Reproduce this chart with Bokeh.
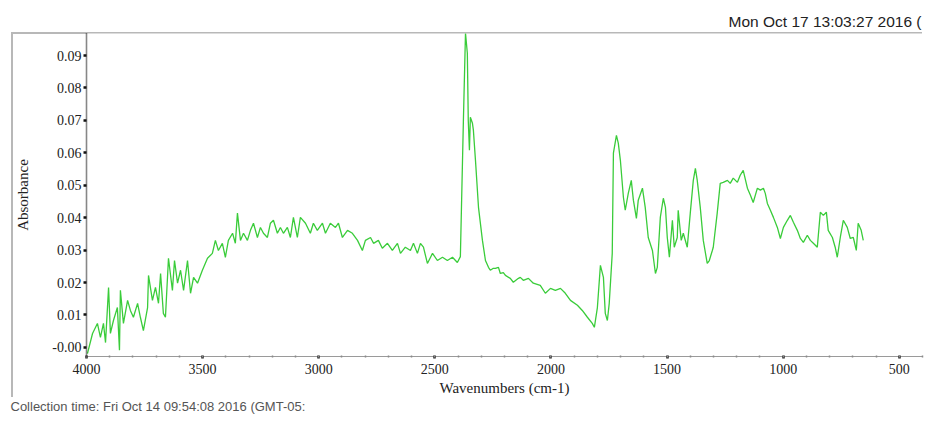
from bokeh.plotting import figure
from bokeh.models import Range1d, FixedTicker, Title
from bokeh.embed import file_html
from bokeh.resources import INLINE

# ---- data ----
wavenumber = [
    3996, 3974, 3953, 3940, 3927, 3918, 3905, 3897, 3884, 3867,
    3858, 3854, 3841, 3823, 3811, 3798, 3780, 3768, 3755, 3737,
    3733, 3716, 3703, 3690, 3681, 3669, 3660, 3647, 3630, 3621,
    3608, 3595, 3582, 3565, 3552, 3539, 3522, 3501, 3479, 3458,
    3445, 3432, 3415, 3402, 3389, 3371, 3359, 3350, 3337, 3324,
    3307, 3294, 3281, 3264, 3251, 3238, 3221, 3208, 3195, 3178,
    3165, 3152, 3135, 3122, 3109, 3092, 3079, 3057, 3036, 3023,
    3006, 2984, 2971, 2950, 2928, 2915, 2898, 2876, 2855, 2833,
    2812, 2799, 2777, 2764, 2743, 2726, 2704, 2683, 2661, 2648,
    2627, 2605, 2592, 2575, 2562, 2549, 2532, 2510, 2489, 2467,
    2446, 2424, 2403, 2390, 2377, 2368, 2360, 2356, 2351, 2347,
    2338, 2334, 2325, 2312, 2295, 2282, 2269, 2261, 2248, 2239,
    2226, 2218, 2205, 2196, 2175, 2162, 2140, 2132, 2119, 2097,
    2076, 2046, 2024, 2002, 1981, 1959, 1938, 1916, 1886, 1865,
    1843, 1822, 1813, 1800, 1787, 1774, 1766, 1757, 1749, 1736,
    1731, 1718, 1710, 1701, 1688, 1680, 1667, 1654, 1645, 1632,
    1624, 1606, 1594, 1581, 1563, 1550, 1542, 1529, 1516, 1507,
    1499, 1490, 1477, 1469, 1456, 1452, 1439, 1430, 1413, 1400,
    1387, 1378, 1370, 1357, 1344, 1327, 1318, 1305, 1301, 1284,
    1271, 1258, 1240, 1228, 1215, 1197, 1185, 1172, 1154, 1141,
    1129, 1111, 1098, 1085, 1077, 1068, 1055, 1042, 1025, 1012,
    999, 982, 969, 956, 939, 926, 913, 896, 883, 870,
    853, 840, 827, 814, 806, 788, 776, 767, 754, 741,
    724, 711, 698, 685, 677, 664, 655,
]
absorbance = [
    -0.0019, 0.0043, 0.0074, 0.0031, 0.0074, 0.0015, 0.0185, 0.0043, 0.0083, 0.0123,
    -0.0009, 0.0176, 0.0074, 0.0145, 0.0114, 0.0093, 0.0136, 0.0093, 0.0052, 0.0123,
    0.0222, 0.0145, 0.0185, 0.0136, 0.0228, 0.0105, 0.0093, 0.0275, 0.0176, 0.0268,
    0.0198, 0.0238, 0.0176, 0.0268, 0.0167, 0.0216, 0.0198, 0.0238, 0.0275, 0.0290,
    0.0330, 0.0299, 0.0321, 0.0278, 0.0330, 0.0352, 0.0321, 0.0414, 0.0330, 0.0352,
    0.0330, 0.0361, 0.0383, 0.0339, 0.0370, 0.0352, 0.0339, 0.0383, 0.0392, 0.0352,
    0.0370, 0.0352, 0.0370, 0.0339, 0.0401, 0.0339, 0.0401, 0.0383, 0.0352, 0.0383,
    0.0361, 0.0383, 0.0352, 0.0383, 0.0370, 0.0383, 0.0339, 0.0361, 0.0352, 0.0330,
    0.0299, 0.0330, 0.0339, 0.0321, 0.0330, 0.0306, 0.0321, 0.0299, 0.0321, 0.0290,
    0.0309, 0.0299, 0.0321, 0.0290, 0.0321, 0.0309, 0.0259, 0.0290, 0.0268, 0.0278,
    0.0268, 0.0278, 0.0262, 0.0280, 0.0700, 0.0969, 0.0907, 0.0700, 0.0608, 0.0710,
    0.0691, 0.0670, 0.0577, 0.0432, 0.0330, 0.0268, 0.0247, 0.0238, 0.0244, 0.0244,
    0.0247, 0.0228, 0.0231, 0.0222, 0.0213, 0.0201, 0.0213, 0.0216, 0.0207, 0.0213,
    0.0198, 0.0191, 0.0167, 0.0182, 0.0176, 0.0182, 0.0167, 0.0145, 0.0130, 0.0114,
    0.0093, 0.0074, 0.0062, 0.0123, 0.0253, 0.0216, 0.0105, 0.0083, 0.0136, 0.0290,
    0.0599, 0.0654, 0.0630, 0.0577, 0.0463, 0.0423, 0.0475, 0.0515, 0.0454, 0.0398,
    0.0454, 0.0491, 0.0432, 0.0339, 0.0299, 0.0228, 0.0247, 0.0401, 0.0460, 0.0432,
    0.0339, 0.0278, 0.0392, 0.0309, 0.0339, 0.0423, 0.0330, 0.0352, 0.0309, 0.0414,
    0.0515, 0.0552, 0.0515, 0.0432, 0.0330, 0.0259, 0.0268, 0.0299, 0.0309, 0.0414,
    0.0506, 0.0509, 0.0515, 0.0506, 0.0522, 0.0509, 0.0531, 0.0546, 0.0491, 0.0469,
    0.0447, 0.0491, 0.0485, 0.0491, 0.0475, 0.0444, 0.0423, 0.0401, 0.0370, 0.0336,
    0.0370, 0.0392, 0.0407, 0.0386, 0.0361, 0.0336, 0.0324, 0.0346, 0.0330, 0.0321,
    0.0309, 0.0417, 0.0407, 0.0417, 0.0361, 0.0339, 0.0309, 0.0278, 0.0339, 0.0392,
    0.0370, 0.0336, 0.0339, 0.0299, 0.0383, 0.0361, 0.0330,
]

x_ticks = [4000, 3500, 3000, 2500, 2000, 1500, 1000, 500]
x_minor_ticks = [4000 - 100 * i for i in range(37)]
y_ticks = [0.0, 0.01, 0.02, 0.03, 0.04, 0.05, 0.06, 0.07, 0.08, 0.09]
y_tick_labels = ["-0.00", "0.01", "0.02", "0.03", "0.04", "0.05", "0.06", "0.07", "0.08", "0.09"]

x_label = "Wavenumbers (cm-1)"
y_label = "Absorbance"
title_text = "Mon Oct 17 13:03:27 2016 ("
caption_text = "Collection time: Fri Oct 14 09:54:08 2016 (GMT-05:"

W, H = 930, 421

# thin grey outer box (top and left edges) drawn as the page background of the figure
frame_css = {
    "background-image": "linear-gradient(#b8b8b8,#b8b8b8), linear-gradient(#b8b8b8,#b8b8b8)",
    "background-size": "911px 2px, 2px 365px",
    "background-position": "11px 32px, 11px 32px",
    "background-repeat": "no-repeat",
}

p = figure(
    width=W, height=H, output_backend="svg", toolbar_location=None,
    x_range=Range1d(4000, 400), y_range=Range1d(-0.0028, 0.0968),
    min_border_left=86, min_border_right=8, min_border_top=33, min_border_bottom=65,
    background_fill_color="white", border_fill_color=None,
    styles=frame_css,
)
p.outline_line_color = None
p.xgrid.visible = False
p.ygrid.visible = False

serif = "Liberation Serif"

# x axis
xa = p.xaxis[0]
xa.ticker = FixedTicker(ticks=x_ticks, minor_ticks=x_minor_ticks)
xa.axis_line_color = "#9a9a9a"
xa.axis_line_width = 1.2
xa.major_tick_line_color = "#222222"
xa.major_tick_line_width = 2.5
xa.major_tick_out = 2
xa.major_tick_in = 1
xa.minor_tick_line_color = "#8a8a8a"
xa.minor_tick_line_width = 1.5
xa.minor_tick_out = 1
xa.minor_tick_in = 1
xa.major_label_text_font = serif
xa.major_label_text_font_size = "14px"
xa.major_label_text_color = "#222222"
xa.major_label_standoff = 5
xa.axis_label = x_label
xa.axis_label_text_font = serif
xa.axis_label_text_font_style = "normal"
xa.axis_label_text_font_size = "15px"
xa.axis_label_text_color = "#222222"
xa.axis_label_standoff = 3

# y axis
ya = p.yaxis[0]
ya.ticker = FixedTicker(ticks=y_ticks, minor_ticks=[])
ya.major_label_overrides = dict(zip(y_ticks, y_tick_labels))
ya.axis_line_color = "#111111"
ya.axis_line_width = 1.6
ya.axis_line_dash = "1 1"
ya.major_tick_line_color = "#111111"
ya.major_tick_line_width = 2.5
ya.major_tick_out = 3
ya.major_tick_in = 0
ya.minor_tick_line_color = None
ya.major_label_text_font = serif
ya.major_label_text_font_size = "14px"
ya.major_label_text_color = "#222222"
ya.major_label_standoff = 2
ya.axis_label = y_label
ya.axis_label_text_font = serif
ya.axis_label_text_font_style = "normal"
ya.axis_label_text_font_size = "15px"
ya.axis_label_text_color = "#222222"
ya.axis_label_standoff = 18

# spectrum
p.line(wavenumber, absorbance, line_color="#3acc3a", line_width=1.3)

# header (top right) and caption (bottom left)
p.add_layout(Title(text=title_text, align="left", offset=642, standoff=8,
                   text_font="Liberation Sans", text_font_size="15.5px",
                   text_font_style="normal", text_color="#222222"), "above")
p.add_layout(Title(text=caption_text, align="left", offset=-76, standoff=-3,
                   text_font="Liberation Sans", text_font_size="13px",
                   text_font_style="normal", text_color="#555555"), "below")

open("out.html", "w").write(file_html(p, INLINE))
